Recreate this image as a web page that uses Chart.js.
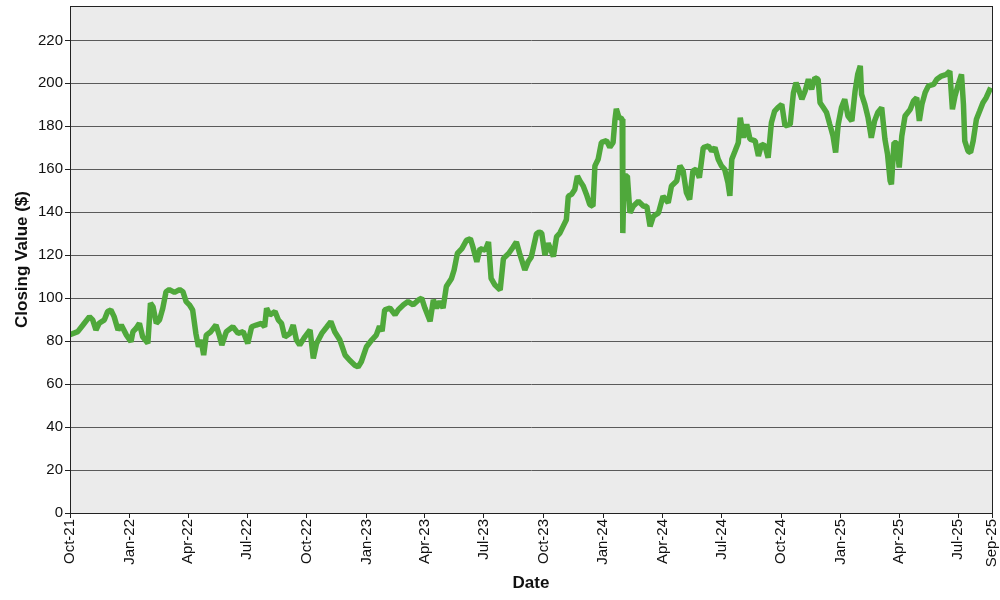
<!DOCTYPE html>
<html>
<head>
<meta charset="utf-8">
<script src="https://cdn.jsdelivr.net/npm/chart.js@4.4.1/dist/chart.umd.min.js"></script>
<style>
  html, body { margin: 0; padding: 0; background: #fff; }
  #wrap { width: 1000px; height: 600px; }
</style>
</head>
<body>
<div id="wrap"><canvas id="chart" width="1000" height="600"></canvas></div>
<script>
'use strict';

// --- Data ---
const startDate = '2021-10-01';
const endDate = '2025-08-22';

const dates = [
  '2021-10-01','2021-10-13','2021-10-21','2021-10-31','2021-11-05','2021-11-10','2021-11-15','2021-11-23',
  '2021-11-28','2021-12-03','2021-12-08','2021-12-14','2021-12-19','2021-12-27','2022-01-03','2022-01-06',
  '2022-01-11','2022-01-16','2022-01-21','2022-01-29','2022-02-02','2022-02-06','2022-02-11','2022-02-16',
  '2022-02-21','2022-02-26','2022-03-03','2022-03-11','2022-03-19','2022-03-24','2022-03-29','2022-04-03',
  '2022-04-08','2022-04-13','2022-04-17','2022-04-21','2022-04-25','2022-04-29','2022-05-06','2022-05-14',
  '2022-05-19','2022-05-23','2022-05-30','2022-06-09','2022-06-17','2022-06-25','2022-07-02','2022-07-08',
  '2022-07-15','2022-07-23','2022-07-28','2022-07-31','2022-08-05','2022-08-13','2022-08-18','2022-08-23',
  '2022-08-28','2022-09-05','2022-09-10','2022-09-15','2022-09-20','2022-09-28','2022-10-06','2022-10-11',
  '2022-10-16','2022-10-24','2022-11-01','2022-11-07','2022-11-13','2022-11-21','2022-11-29','2022-12-06',
  '2022-12-14','2022-12-19','2022-12-24','2023-01-01','2023-01-09','2023-01-16','2023-01-21','2023-01-25',
  '2023-01-29','2023-02-06','2023-02-14','2023-02-19','2023-02-27','2023-03-06','2023-03-14','2023-03-22',
  '2023-03-27','2023-04-01','2023-04-09','2023-04-14','2023-04-19','2023-04-24','2023-04-29','2023-05-04',
  '2023-05-12','2023-05-16','2023-05-21','2023-05-28','2023-06-04','2023-06-10','2023-06-14','2023-06-20',
  '2023-06-25','2023-07-03','2023-07-08','2023-07-12','2023-07-18','2023-07-26','2023-07-31','2023-08-08',
  '2023-08-15','2023-08-20','2023-08-25','2023-09-02','2023-09-07','2023-09-12','2023-09-20','2023-09-24',
  '2023-09-28','2023-10-03','2023-10-08','2023-10-16','2023-10-21','2023-10-26','2023-10-31','2023-11-05',
  '2023-11-08','2023-11-13','2023-11-18','2023-11-22','2023-11-26','2023-12-01','2023-12-06','2023-12-11',
  '2023-12-16','2023-12-19','2023-12-24','2023-12-29','2024-01-06','2024-01-11','2024-01-16','2024-01-19',
  '2024-01-21','2024-01-25','2024-01-30','2024-01-31','2024-02-02','2024-02-07','2024-02-11','2024-02-16',
  '2024-02-24','2024-03-03','2024-03-08','2024-03-13','2024-03-18','2024-03-26','2024-04-02','2024-04-10',
  '2024-04-15','2024-04-23','2024-04-28','2024-05-03','2024-05-08','2024-05-13','2024-05-18','2024-05-23',
  '2024-05-28','2024-06-03','2024-06-11','2024-06-16','2024-06-21','2024-06-26','2024-07-01','2024-07-06',
  '2024-07-11','2024-07-14','2024-07-17','2024-07-22','2024-07-27','2024-07-30','2024-08-04','2024-08-09',
  '2024-08-14','2024-08-22','2024-08-27','2024-09-01','2024-09-06','2024-09-11','2024-09-16','2024-09-21',
  '2024-09-26','2024-10-02','2024-10-07','2024-10-15','2024-10-20','2024-10-24','2024-10-27','2024-11-02',
  '2024-11-07','2024-11-12','2024-11-17','2024-11-22','2024-11-27','2024-11-30','2024-12-05','2024-12-10',
  '2024-12-15','2024-12-20','2024-12-24','2024-12-28','2025-01-02','2025-01-07','2025-01-12','2025-01-18',
  '2025-01-23','2025-01-27','2025-01-31','2025-02-02','2025-02-07','2025-02-12','2025-02-17','2025-02-22',
  '2025-02-27','2025-03-05','2025-03-10','2025-03-14','2025-03-18','2025-03-20','2025-03-24','2025-03-28',
  '2025-04-01','2025-04-05','2025-04-10','2025-04-18','2025-04-23','2025-04-28','2025-05-02','2025-05-06',
  '2025-05-11','2025-05-16','2025-05-24','2025-05-29','2025-06-05','2025-06-13','2025-06-18','2025-06-22',
  '2025-06-26','2025-07-01','2025-07-06','2025-07-09','2025-07-11','2025-07-16','2025-07-20','2025-07-24',
  '2025-07-29','2025-08-03','2025-08-08','2025-08-13','2025-08-20'
];

const closes = [
  83, 84.4, 87.5, 91.4, 89.9, 85.2, 88.3, 89.9,
  93.8, 94.5, 91.4, 85.2, 87.5, 82.8, 79.7, 84.4,
  86, 88.3, 82, 79, 97.7, 96, 88.3, 89.9,
  95.3, 103, 104, 102.7, 104, 103, 98.4, 96.9,
  94.5, 83.6, 77.4, 80.5, 73.5, 82.8, 84.4, 87.5,
  82.8, 78.2, 84.4, 86.7, 83.6, 84.4, 78.9, 86.7,
  87.5, 88.3, 86.7, 95.3, 92.2, 93.8, 89.9, 88.3,
  82, 83.6, 87.5, 80.5, 78.2, 82, 85.2, 71.9,
  78.9, 83.6, 86.7, 89.1, 84.4, 80.5, 73.5, 71.1,
  68.8, 68, 70.4, 77.4, 80.5, 82.8, 86.9, 84.6,
  94.6, 95.4, 92.3, 94.6, 96.9, 98.4, 96.9, 99.2,
  100, 95.4, 89.2, 99.2, 95.4, 98.4, 95.4, 105.4,
  109.2, 113.1, 120.8, 123.1, 126.9, 127.7, 123.8, 116.9,
  123.1, 122.3, 126.2, 109.2, 106.1, 103.8, 118.5, 120.8,
  123.8, 126.2, 120.8, 113.1, 116.9, 119.2, 130, 130.8,
  130.3, 120.1, 125.6, 119.4, 128.7, 130.3, 133.4, 136.5,
  147.5, 148.3, 150.6, 156.9, 154.5, 152.2, 148.3, 143.6,
  142.8, 161.6, 164.7, 172.5, 173.3, 170.2, 172.5, 183.4,
  188.1, 184.2, 183.4, 130.3, 156.9, 156.9, 139.7, 142.8,
  145.1, 142.8, 142.8, 133.4, 138.1, 139.7, 147.5, 144.4,
  152.2, 154.5, 161.6, 159.2, 149.1, 145.9, 159.2, 160,
  156.1, 170.1, 170.9, 168.5, 170.1, 164.7, 161.6, 160,
  153.8, 147.6, 164.7, 168.5, 172.4, 184, 174.7, 180.9,
  174, 173.2, 166.2, 171.6, 170.9, 165.4, 181.7, 187.1,
  188.7, 190.2, 180.2, 180.9, 195.7, 200.3, 198, 192.6,
  196.4, 201.9, 197.2, 202.6, 201.9, 191, 188.7, 186.4,
  180.9, 175.5, 167.8, 180.9, 188.7, 192.6, 184.8, 182.5,
  196.4, 204.2, 208.1, 194.9, 190.2, 184, 174.7, 182.5,
  186.4, 188.7, 174, 167, 154.6, 153, 172.4, 172.4,
  160.8, 175.5, 184.8, 187.9, 191.8, 193.3, 182.5, 190.2,
  195.7, 198.8, 199.5, 201.9, 203.4, 204.2, 205.7, 187.9,
  194.1, 199.5, 204.2, 190.2, 173.2, 168.5, 167.8, 173.2,
  183.3, 187.1, 191, 193.3, 198
];

const tickDates = [
  '2021-10-01','2022-01-01','2022-04-01','2022-07-01','2022-10-01','2023-01-01','2023-04-01','2023-07-01',
  '2023-10-01','2024-01-01','2024-04-01','2024-07-01','2024-10-01','2025-01-01','2025-04-01','2025-07-01',
  endDate
];
const tickLabels = [
  'Oct-21','Jan-22','Apr-22','Jul-22','Oct-22','Jan-23','Apr-23','Jul-23',
  'Oct-23','Jan-24','Apr-24','Jul-24','Oct-24','Jan-25','Apr-25','Jul-25',
  'Sep-25'
];
const yTicks = [0, 20, 40, 60, 80, 100, 120, 140, 160, 180, 200, 220];
const yMax = 236;

// days since start, used as the linear x value
function dayNum(s) {
  return (Date.parse(s) - Date.parse(startDate)) / 86400000;
}

const FONT = "'Liberation Sans', Arial, sans-serif";

// grey plot background + frame round the chart area
const plotFrame = {
  id: 'plotFrame',
  beforeDraw(chart) {
    const { ctx, chartArea: a } = chart;
    ctx.save();
    ctx.fillStyle = '#ebebeb';
    ctx.fillRect(a.left, a.top, a.right - a.left, a.bottom - a.top);
    ctx.restore();
  },
  afterDraw(chart) {
    const { ctx, chartArea: a } = chart;
    ctx.save();
    ctx.strokeStyle = '#222';
    ctx.lineWidth = 1;
    ctx.strokeRect(Math.round(a.left) + 0.5, Math.round(a.top) + 0.5,
      Math.round(a.right - a.left), Math.round(a.bottom - a.top));
    ctx.restore();
  }
};

const points = dates.map((d, i) => ({ x: dayNum(d), y: closes[i] }));

new Chart(document.getElementById('chart'), {
  type: 'line',
  data: {
    datasets: [{
      label: 'Closing Value',
      data: points,
      borderColor: '#4fa83b',
      borderWidth: 5.5,
      borderJoinStyle: 'bevel',
      pointRadius: 0,
      tension: 0,
      fill: false
    }]
  },
  options: {
    responsive: false,
    animation: false,
    parsing: false,
    layout: { padding: { top: 6, right: 8, left: 0, bottom: 0 } },
    plugins: {
      legend: { display: false },
      tooltip: { enabled: false }
    },
    scales: {
      x: {
        type: 'linear',
        min: 0,
        max: dayNum(endDate),
        afterBuildTicks: scale => {
          scale.ticks = tickDates.map(d => ({ value: dayNum(d) }));
        },
        afterFit: scale => {
          scale.height = 87;
          scale.paddingLeft = 0;
          scale.paddingRight = 0;
        },
        ticks: {
          autoSkip: false,
          maxRotation: 90,
          minRotation: 90,
          padding: 1,
          color: '#111',
          font: { family: FONT, size: 15 },
          callback: (value, index) => tickLabels[index]
        },
        grid: { drawOnChartArea: false, drawTicks: true, tickLength: 5, color: '#222' },
        border: { color: '#222', width: 1 },
        title: {
          display: true,
          text: 'Date',
          color: '#111',
          font: { family: FONT, size: 17, weight: 'bold' },
          padding: { top: 0, bottom: 6 }
        }
      },
      y: {
        min: 0,
        max: yMax,
        afterBuildTicks: scale => {
          scale.ticks = yTicks.map(v => ({ value: v }));
        },
        afterFit: scale => {
          scale.width = 70;
          scale.paddingTop = 0;
          scale.paddingBottom = 0;
        },
        ticks: {
          padding: 2,
          color: '#111',
          font: { family: FONT, size: 15 }
        },
        grid: { color: '#5a5a5a', tickColor: '#222', tickLength: 5, lineWidth: 1 },
        border: { color: '#222', width: 1 },
        title: {
          display: true,
          text: 'Closing Value ($)',
          color: '#111',
          font: { family: FONT, size: 17, weight: 'bold' },
          padding: { top: 12, bottom: 0 }
        }
      }
    }
  },
  plugins: [plotFrame]
});
</script>
</body>
</html>
